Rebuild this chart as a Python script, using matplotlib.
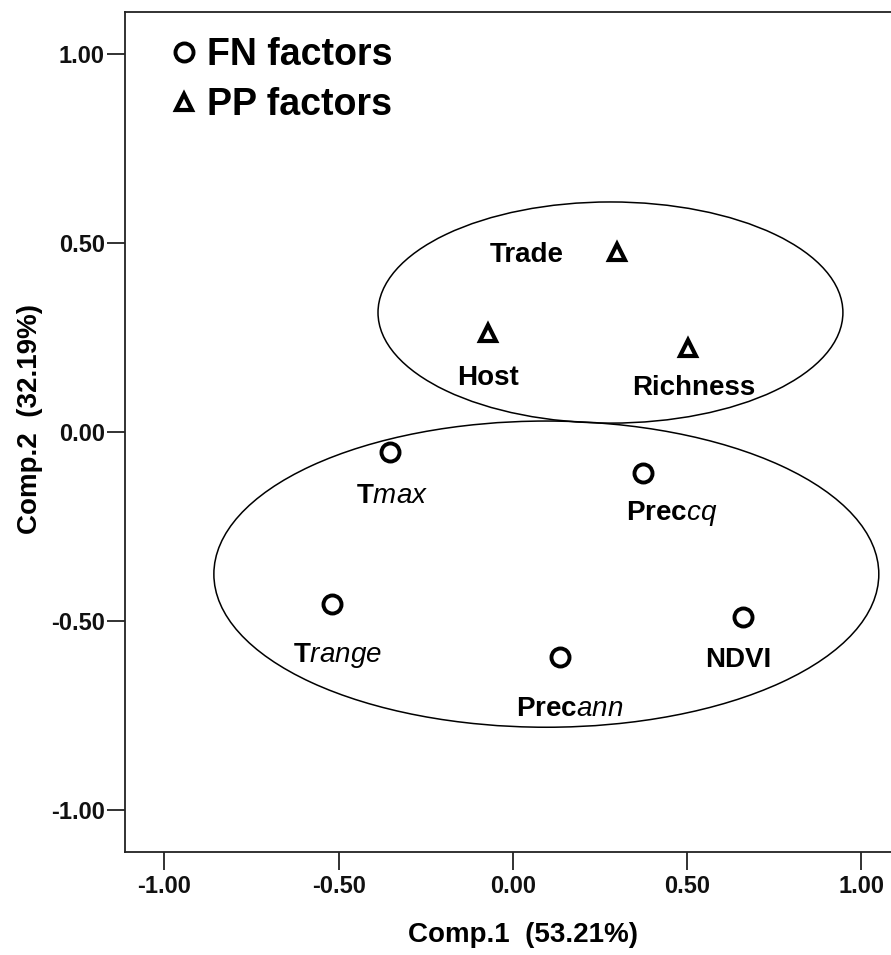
import matplotlib
matplotlib.use('Agg')
import matplotlib.pyplot as plt
from matplotlib.patches import Ellipse
from matplotlib.ticker import FormatStrFormatter

plt.rcParams['font.family'] = ['Liberation Sans', 'DejaVu Sans']
plt.rcParams['mathtext.fontset'] = 'custom'
plt.rcParams['mathtext.it'] = 'Liberation Sans:style=italic:weight=normal'
plt.rcParams['mathtext.rm'] = 'Liberation Sans:weight=bold'

# ---- data ----
fn_labels = ['T$\\mathit{max}$', 'Prec$\\mathit{cq}$', 'T$\\mathit{range}$',
             'Prec$\\mathit{ann}$', 'NDVI']
fn_x = [-0.353, 0.372, -0.519, 0.135, 0.660]
fn_y = [-0.053, -0.109, -0.455, -0.595, -0.489]

pp_labels = ['Trade', 'Host', 'Richness']
pp_x = [0.298, -0.072, 0.502]
pp_y = [0.476, 0.262, 0.222]

ticks = [-1.0, -0.5, 0.0, 0.5, 1.0]
xlabel = 'Comp.1  (53.21%)'
ylabel = 'Comp.2  (32.19%)'
legend_labels = ['FN factors', 'PP factors']

# ---- label offsets (points) ----
fn_offsets = [(1.5, -36.7), (21, -33.8), (3.6, -41.8), (7.2, -42.5), (-3.6, -36)]
pp_offsets = [(-65, -7.2), (0, -37.2), (4.3, -33.8)]

fig = plt.figure(figsize=(8.91, 9.55), dpi=100)
ax = fig.add_axes([125/891, 1-852/955, 766/891, 840/955])

ax.set_xlim(-1.113, 1.085)
ax.set_ylim(-1.111, 1.111)

# ellipses
ax.add_patch(Ellipse((0.280, 0.316), 1.334, 0.585, fill=False, ec='black', lw=1.1))
ax.add_patch(Ellipse((0.096, -0.376), 1.908, 0.81, fill=False, ec='black', lw=1.1))

ax.plot(fn_x, fn_y, linestyle='none', marker='o', ms=13, mfc='white', mec='black',
        mew=2.8, label=legend_labels[0], zorder=3)
ax.plot(pp_x, pp_y, linestyle='none', marker='^', ms=11.5, mfc='white', mec='black',
        mew=3.0, label=legend_labels[1], zorder=3)

for lab, x, y, off in zip(fn_labels, fn_x, fn_y, fn_offsets):
    ax.annotate(lab, (x, y), xytext=off, textcoords='offset points',
                ha='center', va='baseline', fontsize=20, fontweight='bold')
for lab, x, y, off in zip(pp_labels, pp_x, pp_y, pp_offsets):
    ax.annotate(lab, (x, y), xytext=off, textcoords='offset points',
                ha='center', va='baseline', fontsize=20, fontweight='bold')

ax.set_xticks(ticks)
ax.set_yticks(ticks)
ax.xaxis.set_major_formatter(FormatStrFormatter('%.2f'))
ax.yaxis.set_major_formatter(FormatStrFormatter('%.2f'))
ax.tick_params(direction='out', length=13, width=1.3, colors='#222222',
               labelsize=17, labelcolor='#111111')
ax.tick_params(axis='y', pad=1.5)
ax.tick_params(axis='x', pad=3.5)
for lab in ax.get_xticklabels() + ax.get_yticklabels():
    lab.set_fontweight('bold')

for side in ['left', 'bottom', 'top']:
    ax.spines[side].set_linewidth(1.3)
    ax.spines[side].set_color('#222222')
ax.spines['right'].set_visible(False)

ax.set_xlabel(xlabel, fontsize=20, fontweight='bold')
ax.set_ylabel(ylabel, fontsize=20, fontweight='bold')
ax.xaxis.set_label_coords((523-125)/766, (852-935)/840)
ax.yaxis.set_label_coords((30-125)/766, 0.515)
ax.xaxis.label.set_va('center')
ax.yaxis.label.set_va('center')

leg = ax.legend(loc='upper left', bbox_to_anchor=(0.052, 0.970), frameon=False,
                handlelength=1.0, handletextpad=0.12, labelspacing=0.36,
                borderpad=0, borderaxespad=0, prop={'weight': 'bold', 'size': 27})

fig.savefig('out.png', dpi=100)
